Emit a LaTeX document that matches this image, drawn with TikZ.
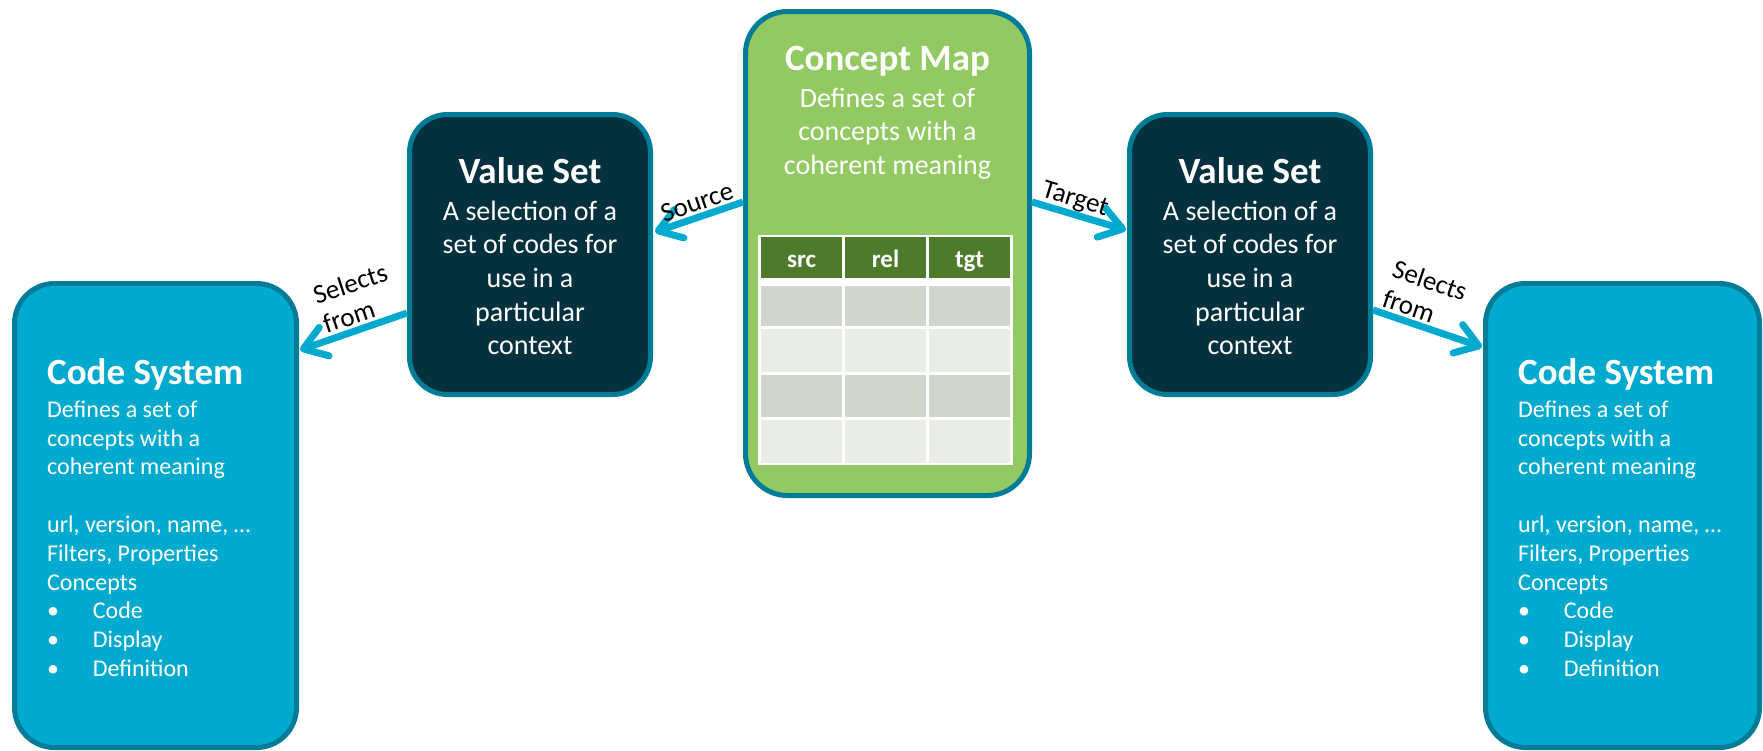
\documentclass[tikz,border=0pt]{standalone}
\usepackage{fontspec}
\setmainfont{Carlito}
\usetikzlibrary{arrows.meta,calc}
\definecolor{cmgreen}{HTML}{92C962}
\definecolor{bordert}{HTML}{007C98}
\definecolor{vsfill}{HTML}{04313D}
\definecolor{csfill}{HTML}{00AACE}
\definecolor{arrowc}{HTML}{00A9CE}
\definecolor{hdr}{HTML}{4E7A2C}
\definecolor{rowdark}{HTML}{D0D6CE}
\definecolor{rowlight}{HTML}{E9ECE7}
\newcommand{\bul}[1]{\makebox[45.7pt][l]{•}#1}
\begin{document}
\begin{tikzpicture}[x=1pt,y=-1pt,
  box/.style={draw=bordert, line width=5pt, rounded corners=40pt, inner sep=0pt},
  ttl/.style={text=white, font=\fontsize{37}{44}\selectfont\bfseries, inner sep=0pt, anchor=base},
  body/.style={text=white, font=\fontsize{28}{33.6}\selectfont, inner sep=0pt, align=center, anchor=north},
  csbody/.style={text=white, font=\fontsize{24}{28.8}\selectfont, inner sep=0pt, align=left, anchor=north west},
  conn/.style={draw=arrowc, line width=7pt, -{Straight Barb[length=22pt,width=30pt,round]}},
  lbl/.style={font=\fontsize{27}{31}\selectfont, inner sep=0pt, align=left},
  hdrtxt/.style={text=white, font=\fontsize{25}{30}\selectfont\bfseries, inner sep=0pt, anchor=base}
]
\useasboundingbox (0,0) rectangle (1763,750);

% boxes
\node[box, fill=cmgreen, minimum width=284pt, minimum height=484pt, rounded corners=42pt] (cm) at (887.5,253.5) {};
\node[box, fill=vsfill, minimum width=241pt, minimum height=280pt, rounded corners=38pt] (vsL) at (530,254.5) {};
\node[box, fill=vsfill, minimum width=241pt, minimum height=280pt, rounded corners=38pt] (vsR) at (1250,254.5) {};
\node[box, fill=csfill, minimum width=282pt, minimum height=464pt] (csL) at (155.5,515.5) {};
\node[box, fill=csfill, minimum width=274pt, minimum height=464pt] (csR) at (1622.5,515.5) {};

% table in concept map
\fill[white] (758,235) rectangle (1013,465);
\foreach \xa/\xb in {761/842, 845/926, 929/1010}{
  \fill[hdr] (\xa,237) rectangle (\xb,278);
  \fill[rowdark] (\xa,286) rectangle (\xb,326);
  \fill[rowlight] (\xa,329) rectangle (\xb,372);
  \fill[rowdark] (\xa,375) rectangle (\xb,417);
  \fill[rowlight] (\xa,420) rectangle (\xb,463);
}
\node[hdrtxt] (hsrc) at (801.5,267) {src};
\node[hdrtxt] (hrel) at (885.5,267) {rel};
\node[hdrtxt] (htgt) at (969.5,267) {tgt};

% texts
\node[ttl] (cmt) at (887.5,70) {Concept Map};
\node[body] (cmb) at (887.5,83.5) {\strut Defines a set of\\concepts with a\\coherent meaning};

\node[ttl] (vsLt) at (530,183) {Value Set};
\node[body] (vsLb) at (530,196.5) {\strut A selection of a\\set of codes for\\use in a\\particular\\context};
\node[ttl] (vsRt) at (1250,183) {Value Set};
\node[body] (vsRb) at (1250,196.5) {\strut A selection of a\\set of codes for\\use in a\\particular\\context};

\node[ttl, anchor=base west] (csLt) at (47,384) {Code System};
\node[csbody] (csLb) at (47,397) {\strut Defines a set of\\concepts with a\\coherent meaning\\[28.8pt]url, version, name, …\\Filters, Properties\\Concepts\\\bul{Code}\\\bul{Display}\\\bul{Definition}};
\node[ttl, anchor=base west] (csRt) at (1518,384) {Code System};
\node[csbody] (csRb) at (1518,397) {\strut Defines a set of\\concepts with a\\coherent meaning\\[28.8pt]url, version, name, …\\Filters, Properties\\Concepts\\\bul{Code}\\\bul{Display}\\\bul{Definition}};

% connectors
\draw[conn] ($(cm.west)+(0,-51.5)$) -- ($(vsL.east)+(2,-22.5)$);
\draw[conn] ($(cm.east)+(0,-51.5)$) -- ($(vsR.west)+(-1,-24.5)$);
\draw[conn] ($(vsL.west)+(0,58.5)$) -- ($(csL.east)+(1,-165.5)$);
\draw[conn] ($(vsR.east)+(0,55.5)$) -- ($(csR.west)+(-1,-168.5)$);

% labels
\node[lbl, rotate=18.8] (lsrc) at (697,202) {Source};
\node[lbl, rotate=-17] (ltgt) at (1075,200) {Target};
\node[lbl, rotate=18.4] (lselL) at (355,298) {Selects\\from};
\node[lbl, rotate=-18.6] (lselR) at (1425,295) {Selects\\from};
\end{tikzpicture}
\end{document}
